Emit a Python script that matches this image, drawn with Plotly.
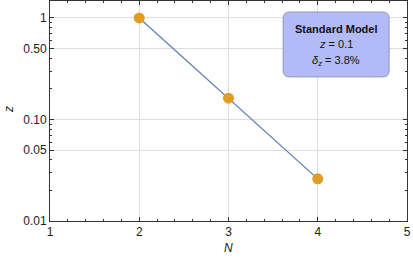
import plotly.graph_objects as go

N_vals = [2, 3, 4]
z_vals = [1.0, 0.162, 0.026]
x_ticks = [1, 2, 3, 4, 5]
y_ticks = [0.01, 0.05, 0.1, 0.5, 1]
y_ticklabels = ["0.01", "0.05", "0.10", "0.50", "1"]

line_color = "#5E81B5"
marker_color = "#E19C24"

fig = go.Figure()
fig.add_trace(go.Scatter(x=N_vals, y=z_vals, mode="lines",
                         line=dict(color=line_color, width=1.3),
                         hoverinfo="skip", showlegend=False))
fig.add_trace(go.Scatter(x=N_vals, y=z_vals, mode="markers",
                         marker=dict(color=marker_color, size=11, line=dict(width=0)),
                         showlegend=False))

font = "Liberation Sans, Arial, sans-serif"
axis_common = dict(showline=True, linecolor="#333333", linewidth=1, mirror="ticks",
                   ticks="inside", ticklen=4, tickcolor="#333333",
                   gridcolor="#DDDDDD", gridwidth=1, zeroline=False, automargin=False,
                   tickfont=dict(family=font, size=12, color="#222222"))

fig.update_xaxes(range=[1, 5], tickvals=x_ticks, ticktext=[str(v) for v in x_ticks],
                 minor=dict(dtick=0.2, ticks="inside", ticklen=2, tickcolor="#333333", showgrid=False),
                 **axis_common)
fig.update_yaxes(type="log", range=[-2, 0.167], tickvals=y_ticks, ticktext=y_ticklabels,
                 minor=dict(dtick="D1", ticks="inside", ticklen=2, tickcolor="#333333", showgrid=False),
                 **axis_common)

# axis titles
fig.add_annotation(x=0.5, y=(221 - 248) / 220, xref="paper", yref="paper", showarrow=False,
                   text="<i>N</i>", xanchor="center", yanchor="middle",
                   font=dict(family=font, size=12, color="#222222"))
fig.add_annotation(x=(9 - 50) / 357, y=(221 - 110) / 220, xref="paper", yref="paper", showarrow=False,
                   text="<i>z</i>", textangle=-90, xanchor="center", yanchor="middle",
                   font=dict(family=font, size=12, color="#222222"))

# rounded legend box
x0, x1, y0, y1 = 0.653, 0.950, 0.655, 0.950
rx, ry = 0.018, 0.029
path = (f"M {x0+rx},{y0} L {x1-rx},{y0} Q {x1},{y0} {x1},{y0+ry} "
        f"L {x1},{y1-ry} Q {x1},{y1} {x1-rx},{y1} L {x0+rx},{y1} "
        f"Q {x0},{y1} {x0},{y1-ry} L {x0},{y0+ry} Q {x0},{y0} {x0+rx},{y0} Z")
fig.add_shape(type="path", path=path, xref="paper", yref="paper",
              fillcolor="#B2BAF8", line=dict(color="#9098BC", width=1), layer="above")

xc = (x0 + x1) / 2
fig.add_annotation(x=xc, y=(221 - 29) / 220, xref="paper", yref="paper", showarrow=False,
                   xanchor="center", yanchor="middle",
                   text="<b>Standard Model</b>", font=dict(family=font, size=11, color="#111111"))
fig.add_annotation(x=xc, y=(221 - 44) / 220, xref="paper", yref="paper", showarrow=False,
                   xanchor="center", yanchor="middle",
                   text="<i>z</i> = 0.1", font=dict(family=font, size=11, color="#111111"))
fig.add_annotation(x=xc, y=(221 - 61) / 220, xref="paper", yref="paper", showarrow=False,
                   xanchor="center", yanchor="middle",
                   text="<i>δ</i><sub><i>z</i></sub> = 3.8%", font=dict(family=font, size=11, color="#111111"))

fig.update_layout(width=413, height=262, margin=dict(l=50, r=6, t=1, b=41),
                  plot_bgcolor="white", paper_bgcolor="white")
fig.write_html("out.html", config={"displayModeBar": False},
               post_script="document.body.style.margin='0';document.body.style.overflow='hidden';")
